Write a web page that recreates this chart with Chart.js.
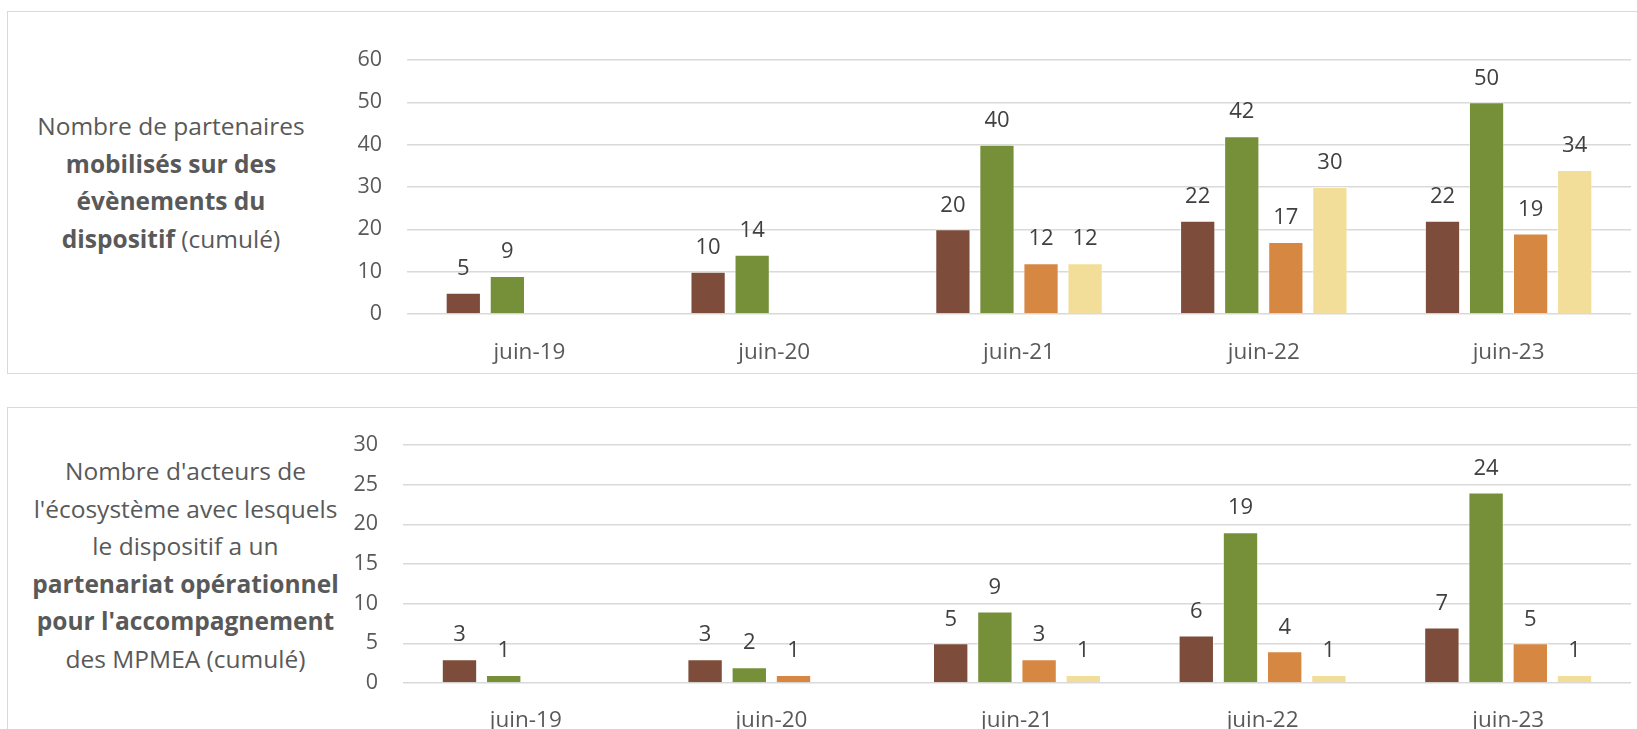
<!DOCTYPE html>
<html>
<head>
<meta charset="utf-8">
<script src="https://cdn.jsdelivr.net/npm/chart.js@4"></script>
<style>
  body { margin: 0; background: #fff; width: 1637px; height: 729px; overflow: hidden; position: relative; font-family: "Open Sans", sans-serif; }
  .panel { position: absolute; border: 1.5px solid #d9d9d9; box-sizing: border-box; }
  .label { position: absolute; color: #595959; font-size: 24.5px; line-height: 37.5px; text-align: center; white-space: nowrap; }
  .label b { font-weight: 700; }
  canvas { position: absolute; }
</style>
</head>
<body>
<div class="panel" style="left:7px; top:11px; width:1640px; height:363px;"></div>
<div class="panel" style="left:7px; top:407px; width:1640px; height:400px;"></div>

<div class="label" style="left:7px; top:107px; width:328px;">
  Nombre de partenaires<br><b>mobilisés sur des</b><br><b>évènements du</b><br><b>dispositif</b> (cumulé)
</div>
<div class="label" style="left:7px; top:452px; width:357px;">
  Nombre d'acteurs de<br>l'écosystème avec lesquels<br>le dispositif a un<br><b>partenariat opérationnel</b><br><b>pour l'accompagnement</b><br>des MPMEA (cumulé)
</div>

<div style="position:absolute; left:330px; top:11px; width:1307px; height:362px;"><canvas id="top"></canvas></div>
<div style="position:absolute; left:330px; top:407px; width:1307px; height:322px;"><canvas id="bottom"></canvas></div>

<script>
const categories = ['juin-19', 'juin-20', 'juin-21', 'juin-22', 'juin-23'];

// panneau du haut : partenaires mobilisés
const topBrown  = [5, 10, 20, 22, 22];
const topGreen  = [9, 14, 40, 42, 50];
const topOrange = [null, null, 12, 17, 19];
const topYellow = [null, null, 12, 30, 34];

// panneau du bas : acteurs de l'écosystème
const botBrown  = [3, 3, 5, 6, 7];
const botGreen  = [1, 2, 9, 19, 24];
const botOrange = [null, 1, 3, 4, 5];
const botYellow = [null, null, 1, 1, 1];

const colors = ['#7d4c3b', '#76903a', '#d68843', '#f3de99'];

const valueLabels = {
  id: 'valueLabels',
  afterDatasetsDraw(chart) {
    const ctx = chart.ctx;
    ctx.save();
    ctx.font = '22px "Open Sans"';
    ctx.fillStyle = '#404040';
    ctx.textAlign = 'center';
    ctx.textBaseline = 'middle';
    chart.data.datasets.forEach((ds, i) => {
      chart.getDatasetMeta(i).data.forEach((bar, j) => {
        const v = ds.data[j];
        if (v == null) return;
        ctx.fillText(String(v), bar.x, bar.y - 24);
      });
    });
    ctx.restore();
  }
};

function build(id, series, max, step, yWidth, xHeight, padTop, xPad) {
  new Chart(document.getElementById(id), {
    type: 'bar',
    data: {
      labels: categories,
      datasets: series.map((d, i) => ({
        data: d,
        backgroundColor: colors[i],
        borderColor: 'rgba(255,255,255,0.5)',
        borderWidth: 1,
        categoryPercentage: 0.72,
        barPercentage: 0.8
      }))
    },
    options: {
      responsive: true,
      maintainAspectRatio: false,
      animation: false,
      layout: { padding: { top: padTop, right: 6, left: 0, bottom: 0 } },
      plugins: { legend: { display: false }, tooltip: { enabled: false } },
      scales: {
        x: {
          grid: { display: false, drawTicks: false },
          border: { display: false },
          ticks: { color: '#595959', font: { family: 'Open Sans', size: 22.5 }, padding: xPad },
          afterFit(s) { s.height = xHeight; }
        },
        y: {
          min: 0, max: max,
          ticks: { stepSize: step, color: '#595959', font: { family: 'Open Sans', size: 21.5 }, padding: 25 },
          grid: { color: '#d9d9d9', lineWidth: 1.5, drawTicks: false },
          border: { display: false },
          afterFit(s) { s.width = yWidth; }
        }
      }
    },
    plugins: [valueLabels]
  });
}

build('top', [topBrown, topGreen, topOrange, topYellow], 60, 10, 77, 59, 49, 25);
build('bottom', [botBrown, botGreen, botOrange, botYellow], 30, 5, 73, 46, 24, 24);
</script>
</body>
</html>
